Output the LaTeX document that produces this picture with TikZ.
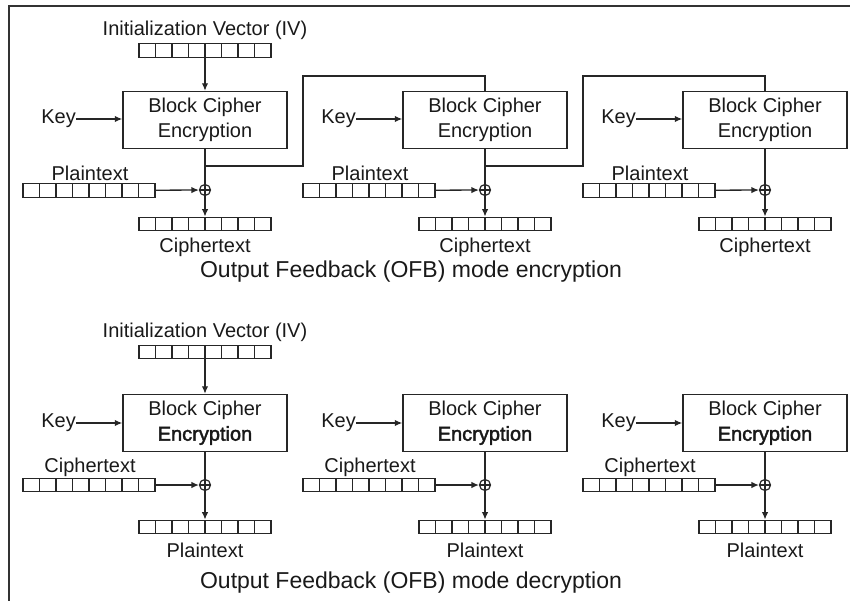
\documentclass[tikz,border=0pt]{standalone}
\usepackage{fontspec}
\setmainfont{Liberation Sans}
\newfontfamily\boldish[FakeBold=2]{Liberation Sans}
\usetikzlibrary{arrows.meta,calc}
\begin{document}
\begin{tikzpicture}[x=1pt,y=-1pt,
  lbl/.style={font=\fontsize{20}{23}\selectfont, inner sep=0pt, text=black!90},
  captxt/.style={font=\fontsize{23}{27}\selectfont, inner sep=0pt, text=black!90},
  box/.style={draw=black!85, line width=1.4pt, minimum width=164pt, minimum height=57pt, align=center, font=\fontsize{20}{25}\selectfont, inner sep=0pt, text=black!90},
  arr/.style={draw=black!85, line width=1.3pt, -{Latex[length=7.5pt,width=6.5pt]}},
  ln/.style={draw=black!85, line width=1.3pt},
  reg/.style={draw=black!85, line width=1.3pt, minimum width=132pt, minimum height=13.5pt, inner sep=0pt,
    path picture={\foreach \k in {1,...,7}{\draw[black!85,line width=1.3pt] ([xshift=\k*16.5pt]path picture bounding box.south west) -- ([xshift=\k*16.5pt]path picture bounding box.north west);}}},
  xorn/.style={circle, draw=black!85, line width=1.2pt, minimum size=11pt, inner sep=0pt,
    path picture={\draw[black!85,line width=1.2pt] (path picture bounding box.north) -- (path picture bounding box.south) (path picture bounding box.west) -- (path picture bounding box.east);}}
]
\useasboundingbox (0,0) rectangle (850,601);
% frame
\draw[line width=2pt, black!80] (8.5,601) -- (8.5,6.5) -- (850,6.5);

% ---------- encryption ----------
\node[lbl] (eiv) at (205,30) {Initialization Vector (IV)};
\node[reg] (eivr) at (205,50.5) {};
\foreach \i/\x in {1/205,2/485,3/765}{
  \node[box] (eb\i) at (\x,120) {Block Cipher\\Encryption};
  \node[lbl,anchor=east] (ek\i) at (\x-129,119) {Key};
  \node[lbl] (ep\i) at (\x-115,173) {Plaintext};
  \node[reg] (epr\i) at (\x-116,190.5) {};
  \node[xorn] (ex\i) at (\x,190) {};
  \node[reg] (ecr\i) at (\x,224) {};
  \node[lbl] (ec\i) at (\x,247) {Ciphertext};
  \draw[arr] (ek\i.east) -- (ek\i.east -| eb\i.west);
  \draw[ln] (eb\i) -- (ex\i);
  \draw[arr] (epr\i) -- (ex\i);
  \draw[arr] (ex\i) -- (ecr\i);
}
\draw[arr] (eivr) -- (eb1);
\coordinate (fa1) at (205,166);
\coordinate (fb1) at (303,76);
\coordinate (fa2) at (485,166);
\coordinate (fb2) at (583,76);
\draw[ln] (fa1) -| (fb1) -| (eb2.north);
\draw[ln] (fa2) -| (fb2) -| (eb3.north);
\node[captxt] (t1) at (411,272) {Output Feedback (OFB) mode encryption};

% ---------- decryption ----------
\node[lbl] (div) at (205,332) {Initialization Vector (IV)};
\node[reg] (divr) at (205,352) {};
\foreach \i/\x in {1/205,2/485,3/765}{
  \node[box] (db\i) at (\x,423) {Block Cipher\\{\boldish Encryption}};
  \node[lbl,anchor=east] (dk\i) at (\x-129,423) {Key};
  \node[lbl] (dc\i) at (\x-115,467) {Ciphertext};
  \node[reg] (dcr\i) at (\x-116,485) {};
  \node[xorn] (dx\i) at (\x,485) {};
  \node[reg] (dpr\i) at (\x,527) {};
  \node[lbl] (dp\i) at (\x,550) {Plaintext};
  \draw[arr] (dk\i.east) -- (dk\i.east -| db\i.west);
  \draw[ln] (db\i) -- (dx\i);
  \draw[arr] (dcr\i) -- (dx\i);
  \draw[arr] (dx\i) -- (dpr\i);
}
\draw[arr] (divr) -- (db1);
\node[captxt] (t2) at (411,583) {Output Feedback (OFB) mode decryption};
\end{tikzpicture}
\end{document}
